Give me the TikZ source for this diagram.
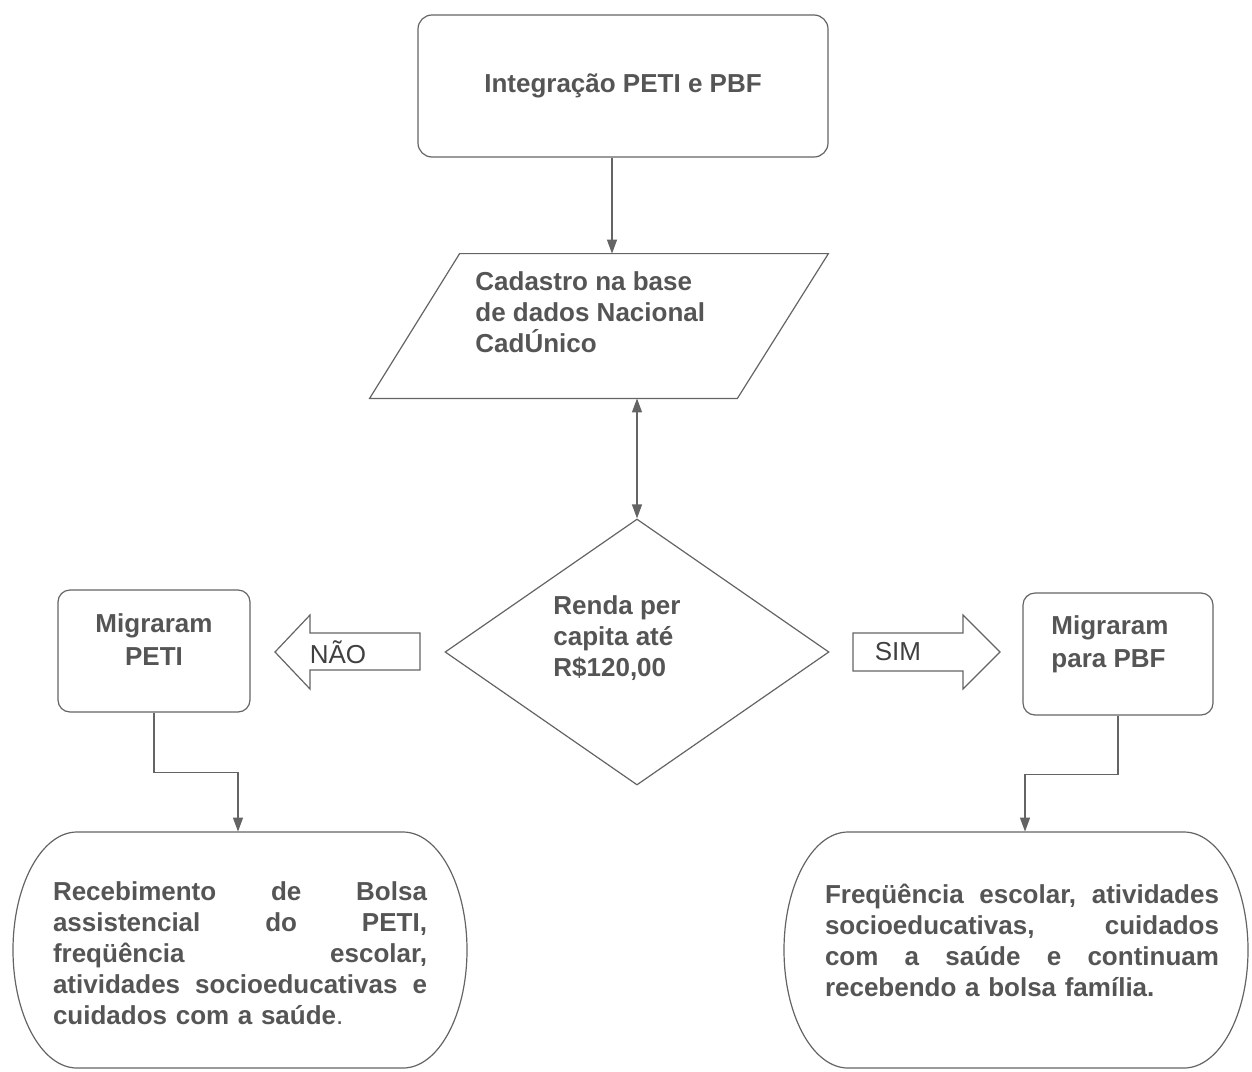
\documentclass[tikz,border=0pt]{standalone}
\usepackage{fontspec}
\setmainfont{Liberation Sans}
\usetikzlibrary{shapes.geometric,arrows.meta}
\definecolor{linha}{RGB}{100,100,100}
\definecolor{texto}{RGB}{85,85,85}
\newcommand{\justa}[2]{\makebox[#1]{#2}}

\begin{document}
\begin{tikzpicture}[x=0.5pt,y=0.5pt,yscale=-1,xscale=1,
    contorno/.style={draw=linha, line width=0.6pt},
    caixa/.style={contorno, rounded corners=6pt, inner sep=0pt},
    rotulo/.style={font=\fontsize{13pt}{15.5pt}\selectfont\bfseries, text=texto, inner sep=0pt, align=left},
    simnao/.style={font=\fontsize{13pt}{15.5pt}\selectfont, text=black!75, inner sep=0pt},
    seta/.style={contorno, -{Triangle[length=7pt,width=5pt]}},
    setadupla/.style={contorno, {Triangle[length=7pt,width=5pt]}-{Triangle[length=7pt,width=5pt]}}]
    \useasboundingbox (0,0) rectangle (1252,1071);

    % Integracao
    \node [caixa, rounded corners=7pt, minimum width=205pt, minimum height=71pt, rotulo, align=center] (integ) at (623,86) {Integração PETI e PBF};

    % Cadastro (paralelogramo)
    \node [inner sep=0pt, minimum width=229pt, minimum height=72pt] (cad) at (599,326) {};
    \draw [contorno] ([xshift=45pt]cad.north west) -- (cad.north east) -- ([xshift=-45.5pt]cad.south east) -- (cad.south west) -- cycle;
    \node [rotulo, anchor=west] (cadtxt) at (475,312) {Cadastro na base\\de dados Nacional\\CadÚnico};

    % Renda (losango)
    \node [diamond, contorno, inner sep=0pt, minimum width=192pt, minimum height=133pt] (renda) at (637,652) {};
    \node [rotulo, anchor=west] (rendatxt) at (553,638) {Renda per\\capita até\\R\$120,00};

    % Migraram PETI / PBF
    \node [caixa, minimum width=96pt, minimum height=61pt] (peti) at (154,651) {};
    \node [rotulo, align=center, font=\fontsize{13pt}{16.5pt}\selectfont\bfseries] (petitxt) at (154,640) {Migraram\\PETI};
    \node [caixa, minimum width=95pt, minimum height=61pt] (pbf) at (1118,654) {};
    \node [rotulo, anchor=west, font=\fontsize{13pt}{16.5pt}\selectfont\bfseries] (pbftxt) at (1051,644) {Migraram\\para PBF};

    % setas NAO e SIM
    \draw [contorno] (275,652) -- (310,615) -- (310,633) -- (420,633) -- (420,670) -- (310,670) -- (310,689) -- cycle;
    \node [simnao] (nao) at (338,652) {NÃO};
    \draw [contorno] (853,633) -- (963,633) -- (963,615) -- (1000,652) -- (963,689) -- (963,671) -- (853,671) -- cycle;
    \node [simnao] (sim) at (898,652) {SIM};

    % Resultados
    \node [inner sep=0pt, minimum width=227pt, minimum height=118pt] (bolsa) at (240,950) {};
    \draw [contorno] (77,832) -- (403,832) .. controls (438.3,832) and (467,884.9) .. (467,950) .. controls (467,1015.1) and (438.3,1068) .. (403,1068) -- (77,1068) .. controls (41.7,1068) and (13,1015.1) .. (13,950) .. controls (13,884.9) and (41.7,832) .. (77,832) -- cycle;
    \node [rotulo, text width=187pt] (bolsatxt) at (240,953) {\justa{187pt}{Recebimento\hfill de\hfill Bolsa}\\\justa{187pt}{assistencial\hfill do\hfill PETI,}\\\justa{187pt}{freqüência\hfill escolar,}\\\justa{187pt}{atividades\hfill socioeducativas\hfill e}\\cuidados com a saúde\mdseries.};

    \node [inner sep=0pt, minimum width=232pt, minimum height=118pt] (fam) at (1016,950) {};
    \draw [contorno] (848,832) -- (1184,832) .. controls (1219.3,832) and (1248,884.9) .. (1248,950) .. controls (1248,1015.1) and (1219.3,1068) .. (1184,1068) -- (848,1068) .. controls (812.7,1068) and (784,1015.1) .. (784,950) .. controls (784,884.9) and (812.7,832) .. (848,832) -- cycle;
    \node [rotulo, text width=197pt] (famtxt) at (1022,940) {\justa{197pt}{Freqüência\hfill escolar,\hfill atividades}\\\justa{197pt}{socioeducativas,\hfill cuidados}\\\justa{197pt}{com\hfill a\hfill saúde\hfill e\hfill continuam}\\recebendo a bolsa família.};

    % conectores
    \draw [seta] ([xshift=-5.5pt]integ.south) -- ([xshift=-5.5pt]integ.south |- cad.north);
    \draw [setadupla] (renda.north |- cad.south) -- (renda.north);
    \draw [seta] (peti.south) -- ++(0,60) -| ([xshift=-1pt]bolsa.north);
    \draw [seta] (pbf.south) -- ++(0,59) -| ([xshift=4.5pt]fam.north);
\end{tikzpicture}
\end{document}
